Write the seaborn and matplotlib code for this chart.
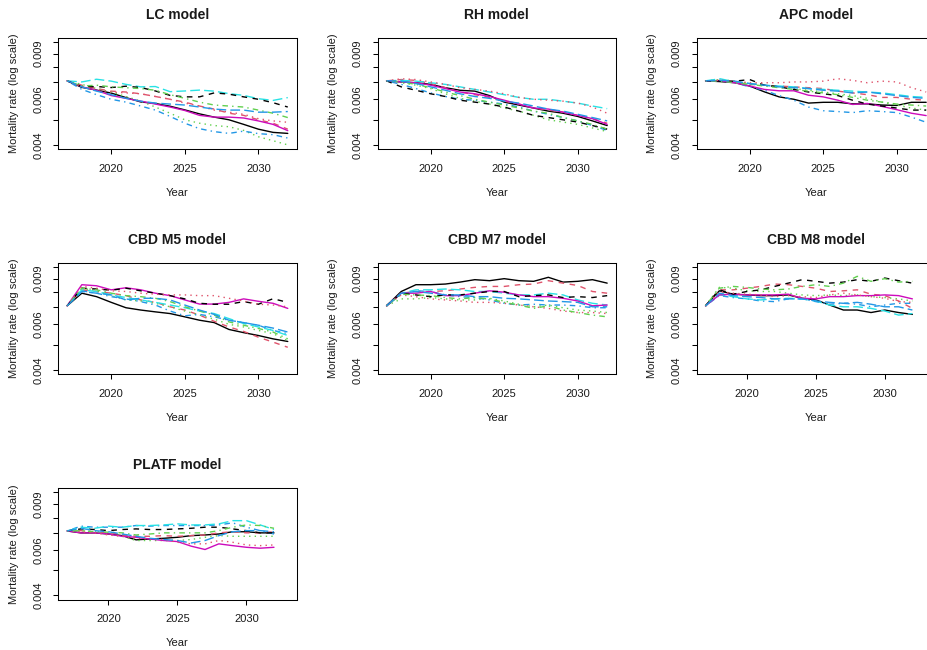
import math
import matplotlib
matplotlib.use("Agg")
import matplotlib.pyplot as plt
from matplotlib.ticker import FixedLocator, FixedFormatter, NullLocator
import pandas as pd
import seaborn as sns

# ---------------- data (mortality rates, per 1000) ----------------
years = list(range(2017, 2033))
sims = [f"sim{i}" for i in range(1, 11)]

lc_rates = [
    [7.07, 6.67, 6.51, 6.34, 6.09, 5.86, 5.78, 5.64, 5.46, 5.27, 5.12, 5.00, 4.80, 4.60, 4.47, 4.43],
    [7.07, 6.80, 6.60, 6.45, 6.40, 6.30, 6.15, 6.00, 5.85, 5.65, 5.50, 5.30, 5.20, 5.00, 4.85, 4.60],
    [7.07, 6.85, 6.60, 6.40, 6.15, 5.90, 5.60, 5.30, 5.00, 4.85, 4.75, 4.70, 4.55, 4.30, 4.15, 4.00],
    [7.07, 6.55, 6.25, 6.00, 5.85, 5.65, 5.45, 5.15, 4.85, 4.62, 4.50, 4.43, 4.52, 4.42, 4.38, 4.25],
    [7.07, 7.00, 7.17, 7.05, 6.85, 6.70, 6.72, 6.42, 6.46, 6.51, 6.45, 6.31, 6.21, 6.03, 5.94, 6.09],
    [7.07, 6.70, 6.50, 6.20, 6.05, 5.90, 5.75, 5.60, 5.43, 5.20, 5.12, 5.12, 5.08, 4.95, 4.80, 4.54],
    [7.07, 6.70, 6.72, 6.66, 6.74, 6.66, 6.46, 6.21, 6.13, 6.13, 6.35, 6.28, 6.13, 6.00, 5.82, 5.60],
    [7.07, 6.70, 6.55, 6.40, 6.35, 6.30, 6.15, 6.00, 5.80, 5.65, 5.45, 5.35, 5.25, 5.05, 4.95, 4.89],
    [7.07, 6.75, 6.80, 6.70, 6.65, 6.60, 6.50, 6.25, 6.05, 5.85, 5.70, 5.65, 5.60, 5.45, 5.30, 5.10],
    [7.07, 6.70, 6.45, 6.25, 6.05, 5.90, 5.80, 5.75, 5.70, 5.60, 5.50, 5.45, 5.45, 5.35, 5.35, 5.38],
]

rh_rates = [
    [7.07, 7.00, 6.95, 6.85, 6.65, 6.50, 6.45, 6.20, 5.85, 5.70, 5.55, 5.40, 5.30, 5.15, 4.95, 4.75],
    [7.07, 7.15, 7.10, 6.90, 6.65, 6.40, 6.25, 6.10, 5.90, 5.75, 5.55, 5.45, 5.35, 5.20, 5.05, 4.85],
    [7.07, 6.95, 6.80, 6.60, 6.30, 6.05, 5.90, 5.75, 5.55, 5.40, 5.20, 5.00, 4.90, 4.80, 4.65, 4.50],
    [7.07, 6.85, 6.60, 6.35, 6.15, 6.00, 5.95, 5.85, 5.75, 5.60, 5.40, 5.25, 5.10, 4.95, 4.75, 4.55],
    [7.07, 7.10, 7.05, 6.95, 6.85, 6.70, 6.55, 6.40, 6.25, 6.10, 6.00, 6.00, 5.90, 5.80, 5.65, 5.52],
    [7.07, 7.00, 6.95, 6.80, 6.60, 6.40, 6.30, 6.15, 5.95, 5.75, 5.55, 5.50, 5.35, 5.20, 5.05, 4.80],
    [7.07, 6.70, 6.50, 6.30, 6.15, 5.95, 5.85, 5.75, 5.60, 5.40, 5.20, 5.10, 5.00, 4.90, 4.75, 4.60],
    [7.07, 7.20, 7.15, 7.00, 6.85, 6.65, 6.55, 6.45, 6.30, 6.10, 6.00, 5.95, 5.90, 5.80, 5.60, 5.30],
    [7.07, 7.00, 6.85, 6.65, 6.40, 6.20, 6.00, 5.85, 5.70, 5.55, 5.40, 5.30, 5.10, 4.95, 4.80, 4.60],
    [7.07, 7.05, 6.90, 6.70, 6.50, 6.30, 6.15, 6.05, 5.90, 5.80, 5.65, 5.50, 5.40, 5.25, 5.10, 4.95],
]

apc_rates = [
    [7.07, 7.02, 6.95, 6.75, 6.41, 6.13, 6.00, 5.80, 5.84, 5.84, 5.76, 5.76, 5.70, 5.68, 5.84, 5.84],
    [7.07, 7.10, 7.00, 6.85, 6.80, 6.75, 6.70, 6.65, 6.60, 6.45, 6.35, 6.25, 6.10, 6.10, 6.00, 5.95],
    [7.07, 7.15, 7.05, 6.90, 6.80, 6.70, 6.60, 6.50, 6.40, 6.30, 6.20, 6.05, 5.85, 5.70, 5.55, 5.45],
    [7.07, 7.05, 6.95, 6.70, 6.50, 6.20, 5.95, 5.60, 5.42, 5.38, 5.33, 5.42, 5.38, 5.33, 5.12, 4.89],
    [7.07, 7.20, 7.00, 6.90, 6.80, 6.75, 6.70, 6.60, 6.55, 6.50, 6.45, 6.40, 6.35, 6.25, 6.15, 6.10],
    [7.07, 7.07, 6.95, 6.75, 6.55, 6.47, 6.47, 6.22, 6.13, 5.95, 5.73, 5.78, 5.63, 5.47, 5.30, 5.19],
    [7.07, 7.05, 7.05, 7.15, 6.80, 6.70, 6.55, 6.40, 6.30, 6.20, 5.95, 5.75, 5.65, 5.55, 5.45, 5.45],
    [7.07, 7.10, 7.05, 6.95, 6.95, 6.95, 7.00, 7.00, 7.05, 7.20, 7.10, 6.95, 7.05, 7.00, 6.65, 6.40],
    [7.07, 7.05, 6.95, 6.85, 6.75, 6.65, 6.55, 6.45, 6.35, 6.25, 6.10, 5.95, 5.85, 5.75, 5.70, 5.65],
    [7.07, 7.10, 7.05, 6.90, 6.80, 6.70, 6.65, 6.60, 6.50, 6.45, 6.35, 6.40, 6.30, 6.20, 6.10, 6.05],
]

m5_rates = [
    [7.07, 7.91, 7.67, 7.29, 6.95, 6.81, 6.70, 6.60, 6.41, 6.22, 6.09, 5.73, 5.57, 5.43, 5.27, 5.15],
    [7.07, 8.15, 8.03, 7.91, 7.74, 7.45, 7.29, 7.01, 6.81, 6.51, 6.16, 5.86, 5.63, 5.35, 5.12, 4.89],
    [7.07, 8.27, 8.08, 7.74, 7.45, 7.38, 7.23, 7.01, 6.75, 6.51, 6.28, 6.00, 5.86, 5.68, 5.52, 5.19],
    [7.07, 8.08, 7.91, 7.67, 7.52, 7.34, 7.12, 6.75, 6.47, 6.55, 6.41, 6.22, 6.09, 5.95, 5.68, 5.52],
    [7.07, 8.15, 8.03, 7.79, 7.61, 7.45, 7.29, 7.12, 6.95, 6.75, 6.60, 6.31, 6.04, 5.86, 5.68, 5.43],
    [7.07, 8.53, 8.45, 8.15, 8.30, 8.15, 7.91, 7.74, 7.45, 7.18, 7.18, 7.29, 7.52, 7.36, 7.23, 6.91],
    [7.07, 8.27, 8.21, 8.12, 8.27, 8.08, 7.91, 7.74, 7.52, 7.23, 7.17, 7.17, 7.34, 7.17, 7.53, 7.29],
    [7.07, 8.40, 8.27, 8.08, 8.03, 7.91, 7.84, 7.79, 7.79, 7.74, 7.74, 7.56, 7.38, 7.17, 7.12, 7.01],
    [7.07, 8.27, 8.15, 7.91, 7.74, 7.67, 7.56, 7.34, 7.01, 6.75, 6.51, 6.13, 5.95, 5.78, 5.60, 5.27],
    [7.07, 8.03, 7.91, 7.79, 7.45, 7.56, 7.56, 7.45, 7.12, 6.81, 6.55, 6.22, 6.09, 5.95, 5.80, 5.60],
]

m7_rates = [
    [7.07, 8.03, 8.53, 8.53, 8.58, 8.73, 8.92, 8.84, 9.00, 8.84, 8.79, 9.11, 8.73, 8.79, 8.92, 8.65],
    [7.07, 7.91, 8.03, 8.03, 8.08, 8.21, 8.33, 8.40, 8.40, 8.53, 8.58, 8.84, 8.65, 8.47, 8.03, 7.91],
    [7.07, 7.52, 7.52, 7.61, 7.52, 7.45, 7.45, 7.56, 7.38, 7.17, 7.01, 7.12, 6.95, 6.81, 6.75, 6.66],
    [7.07, 7.84, 8.08, 8.03, 7.79, 7.67, 7.61, 7.45, 7.23, 7.12, 7.17, 7.12, 7.12, 7.07, 6.95, 6.95],
    [7.07, 7.91, 8.15, 8.15, 8.21, 8.15, 8.03, 8.03, 7.91, 7.79, 7.79, 7.91, 7.79, 7.45, 7.23, 7.12],
    [7.07, 7.91, 7.91, 8.03, 7.74, 7.74, 7.91, 8.08, 7.98, 7.79, 7.67, 7.67, 7.56, 7.38, 7.07, 7.12],
    [7.07, 7.91, 7.79, 7.67, 7.79, 7.79, 7.91, 8.03, 8.03, 7.67, 7.74, 7.79, 7.61, 7.67, 7.61, 7.74],
    [7.07, 7.79, 7.67, 7.52, 7.45, 7.38, 7.29, 7.29, 7.23, 7.12, 7.01, 6.91, 6.75, 6.66, 6.66, 6.60],
    [7.07, 7.84, 7.79, 7.74, 7.61, 7.52, 7.61, 7.52, 7.29, 7.12, 6.91, 7.07, 6.81, 6.66, 6.51, 6.41],
    [7.07, 7.91, 8.03, 7.91, 7.79, 7.79, 7.67, 7.67, 7.56, 7.52, 7.45, 7.38, 7.34, 7.29, 7.01, 7.01],
]

m8_rates = [
    [7.07, 8.08, 7.84, 7.79, 7.74, 7.74, 7.79, 7.56, 7.45, 7.12, 6.81, 6.81, 6.66, 6.81, 6.66, 6.55],
    [7.07, 8.15, 8.15, 8.27, 8.40, 8.58, 8.53, 8.40, 8.27, 8.03, 8.08, 8.15, 7.84, 7.74, 7.38, 6.91],
    [7.07, 8.33, 8.27, 8.08, 8.03, 8.03, 7.91, 7.79, 7.74, 7.79, 7.74, 7.79, 7.67, 7.61, 7.52, 7.38],
    [7.07, 7.74, 7.61, 7.52, 7.38, 7.34, 7.52, 7.52, 7.34, 7.17, 7.23, 7.17, 7.01, 7.12, 7.23, 7.23],
    [7.07, 7.79, 7.67, 7.52, 7.45, 7.52, 7.56, 7.52, 7.38, 7.12, 7.01, 7.01, 6.91, 6.75, 6.51, 6.60],
    [7.07, 7.79, 7.84, 7.79, 7.79, 7.79, 7.84, 7.56, 7.52, 7.67, 7.67, 7.74, 7.74, 7.79, 7.74, 7.52],
    [7.07, 8.15, 7.84, 8.03, 8.15, 8.40, 8.65, 8.92, 8.79, 8.65, 8.73, 8.92, 8.79, 9.05, 8.84, 8.65],
    [7.07, 8.03, 7.91, 7.84, 7.79, 7.67, 7.74, 7.67, 7.61, 7.79, 7.91, 7.79, 7.67, 7.56, 7.34, 7.29],
    [7.07, 8.27, 8.40, 8.33, 8.21, 8.15, 8.21, 8.40, 8.53, 8.40, 8.65, 9.19, 8.79, 9.00, 8.73, 8.79],
    [7.07, 7.91, 7.74, 7.67, 7.61, 7.52, 7.52, 7.52, 7.38, 7.29, 7.23, 7.29, 7.17, 7.01, 7.01, 6.81],
]

platf_rates = [
    [7.10, 6.98, 6.98, 6.91, 6.81, 6.56, 6.61, 6.65, 6.71, 6.81, 6.85, 6.91, 7.05, 7.05, 6.98, 6.98],
    [7.10, 7.12, 6.98, 7.02, 6.85, 6.77, 6.77, 6.81, 6.77, 6.81, 6.85, 6.98, 7.05, 6.98, 6.98, 7.05],
    [7.10, 7.12, 7.05, 6.91, 6.77, 6.52, 6.52, 6.52, 6.52, 6.58, 6.71, 6.81, 6.77, 6.77, 6.77, 6.77],
    [7.10, 7.41, 7.34, 7.34, 7.34, 7.45, 7.41, 7.45, 7.45, 7.45, 7.45, 7.49, 7.63, 7.34, 7.12, 6.91],
    [7.10, 7.34, 7.27, 7.41, 7.34, 7.45, 7.45, 7.49, 7.56, 7.49, 7.49, 7.56, 7.78, 7.78, 7.49, 7.19],
    [7.10, 6.98, 6.98, 6.91, 6.77, 6.71, 6.61, 6.52, 6.46, 6.20, 6.02, 6.33, 6.23, 6.14, 6.09, 6.14],
    [7.10, 7.23, 7.19, 7.12, 7.19, 7.23, 7.19, 7.19, 7.23, 7.27, 7.34, 7.34, 7.23, 7.12, 6.98, 6.98],
    [7.10, 7.05, 6.98, 6.85, 6.77, 6.65, 6.61, 6.58, 6.42, 6.33, 6.33, 6.52, 6.42, 6.27, 6.23, 6.27],
    [7.10, 7.12, 7.05, 7.02, 6.98, 6.85, 6.91, 6.98, 6.98, 6.98, 6.98, 7.12, 7.34, 7.49, 7.45, 7.27],
    [7.10, 7.27, 7.12, 7.05, 6.91, 6.77, 6.65, 6.58, 6.52, 6.38, 6.52, 6.81, 7.05, 7.12, 7.12, 7.05],
]

panel_titles = ["LC model", "RH model", "APC model", "CBD M5 model",
                "CBD M7 model", "CBD M8 model", "PLATF model"]
panel_rates = [lc_rates, rh_rates, apc_rates, m5_rates, m7_rates, m8_rates, platf_rates]
# last year on the x range of each panel (M8 and PLATF span one more year)
panel_last_year = [2032, 2032, 2032, 2032, 2032, 2033, 2033]

ytick_values = [0.004, 0.005, 0.006, 0.007, 0.008, 0.009, 0.010]
ytick_labels = ["0.004", "", "0.006", "", "", "0.009", ""]
xtick_values = [2020, 2025, 2030]

# matplot-style colour / line type cycles (R palette, lty 1:5)
line_colors = ["#000000", "#DF536B", "#61D04F", "#2297E6", "#28E2E5",
               "#CD0BBC", "#000000", "#DF536B", "#61D04F", "#2297E6"]
line_dashes = ["", (4, 4), (1, 3), (1, 3, 4, 3), (7, 3),
               "", (4, 4), (1, 3), (1, 3, 4, 3), (7, 3)]

# ---------------- figure ----------------
sns.set_style("ticks")
plt.rcParams["font.family"] = ["Liberation Sans", "DejaVu Sans"]
plt.rcParams["axes.linewidth"] = 0.75
text_color = "#1a1a1a"

W, H = 927, 650
fig = plt.figure(figsize=(W / 100, H / 100), dpi=100, facecolor="white")

col_left = [58.3, 377.7, 696.7]
row_top = [37.7, 262.7, 488.3]
box_w, box_h = 238.3, 111.3

palette = dict(zip(sims, line_colors))
dashes = dict(zip(sims, line_dashes))

for idx, (title, rates, last) in enumerate(zip(panel_titles, panel_rates, panel_last_year)):
    r, c = divmod(idx, 3)
    ax = fig.add_axes([col_left[c] / W, 1 - (row_top[r] + box_h) / H, box_w / W, box_h / H])
    rows = []
    for s, vals in zip(sims, rates):
        for y, v in zip(years, vals):
            rows.append({"Year": y, "sim": s, "rate": v / 1000.0})
    df = pd.DataFrame(rows)
    sns.lineplot(data=df, x="Year", y="rate", hue="sim", style="sim",
                 hue_order=sims, style_order=sims, palette=palette, dashes=dashes,
                 estimator=None, errorbar=None, linewidth=1.0, legend=False, ax=ax)
    ax.set_yscale("log")
    span = last - 2017
    ax.set_xlim(2017 - 0.04 * span, last + 0.04 * span)
    lo, hi = math.log(0.004), math.log(0.010)
    pad = 0.04 * (hi - lo)
    ax.set_ylim(math.exp(lo - pad), math.exp(hi + pad))
    ax.yaxis.set_major_locator(FixedLocator(ytick_values))
    ax.yaxis.set_major_formatter(FixedFormatter(ytick_labels))
    ax.yaxis.set_minor_locator(NullLocator())
    ax.xaxis.set_major_locator(FixedLocator(xtick_values))
    ax.xaxis.set_minor_locator(NullLocator())
    ax.tick_params(axis="both", which="major", length=3.6, width=0.75,
                   labelsize=8, pad=7, colors="black", labelcolor=text_color)
    ax.tick_params(axis="y", labelrotation=90)
    for lab in ax.get_yticklabels():
        lab.set_va("center")
    for sp in ax.spines.values():
        sp.set_visible(True)
        sp.set_color("black")
        sp.set_linewidth(0.75)
    ax.set_xlabel("Year", fontsize=8, va="center", color=text_color)
    ax.xaxis.set_label_coords(0.5, -0.392)
    ax.set_ylabel("Mortality rate (log scale)", fontsize=8, va="center", color=text_color)
    ax.yaxis.set_label_coords(-0.186, 0.5)
    ax.set_title(title, fontsize=10, fontweight="bold", y=1 + 23 / box_h,
                 va="center", pad=0, color=text_color)

fig.savefig("out.png", dpi=100, facecolor="white")
